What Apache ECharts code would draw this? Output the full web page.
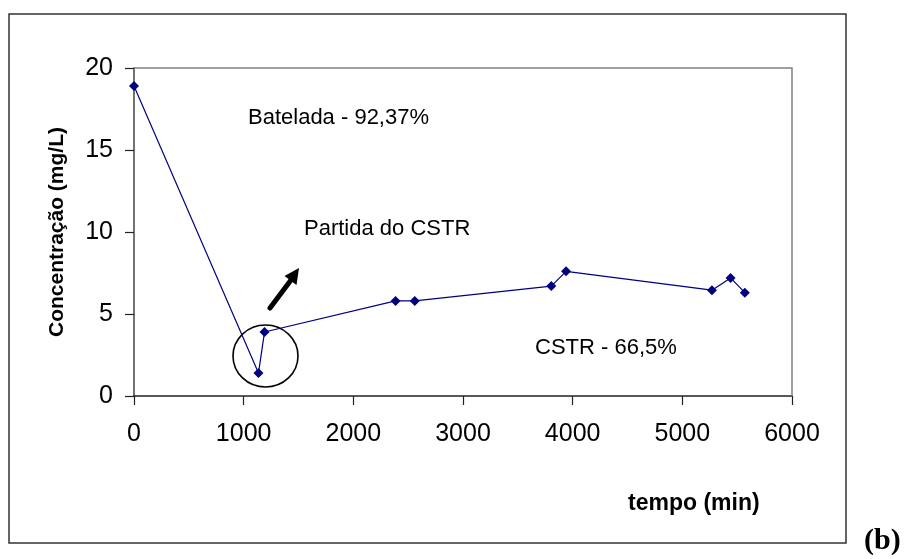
<!DOCTYPE html>
<html>
<head>
<meta charset="utf-8">
<script src="https://cdn.jsdelivr.net/npm/echarts@6/dist/echarts.min.js"></script>
<style>
  html, body { margin: 0; padding: 0; background: #ffffff; }
  #chart { width: 908px; height: 559px; }
</style>
</head>
<body>
<div id="chart"></div>
<script>
// Time (min) of each sample and the measured concentration (mg/L)
const tempo = [0, 1135, 1190, 2385, 2560, 3805, 3940, 5270, 5440, 5570];
const concentracao = [18.9, 1.4, 3.9, 5.8, 5.8, 6.7, 7.6, 6.45, 7.2, 6.3];

const xTicks = [0, 1000, 2000, 3000, 4000, 5000, 6000];
const yTicks = [0, 5, 10, 15, 20];

const notes = [
  { text: 'Batelada - 92,37%', x: 248, y: 119 },
  { text: 'Partida do CSTR', x: 304, y: 230 },
  { text: 'CSTR - 66,5%', x: 535, y: 349 }
];

const FONT = '"Liberation Sans", Arial, sans-serif';

const chart = echarts.init(document.getElementById('chart'), null, { renderer: 'canvas' });

const points = tempo.map((t, i) => [t, concentracao[i]]);

const option = {
  backgroundColor: '#ffffff',
  animation: false,
  grid: { left: 134, right: 116, top: 68, bottom: 163, show: false },
  xAxis: {
    type: 'value',
    min: xTicks[0],
    max: xTicks[xTicks.length - 1],
    interval: 1000,
    axisLine: { show: true, onZero: false, lineStyle: { color: '#222', width: 1.5 } },
    axisTick: { show: true, inside: false, length: 9, lineStyle: { color: '#222', width: 1.2 } },
    axisLabel: { color: '#000', fontFamily: FONT, fontSize: 25, margin: 26,
                 formatter: v => String(v) },
    splitLine: { show: false }
  },
  yAxis: {
    type: 'value',
    min: yTicks[0],
    max: yTicks[yTicks.length - 1],
    interval: 5,
    name: 'Concentração (mg/L)',
    nameLocation: 'middle',
    nameGap: 66,
    nameTextStyle: { color: '#000', fontFamily: FONT, fontSize: 21, fontWeight: 'bold' },
    axisLine: { show: true, lineStyle: { color: '#444', width: 1.5 } },
    axisTick: { show: true, inside: false, length: 9, lineStyle: { color: '#222', width: 1.2 } },
    axisLabel: { color: '#000', fontFamily: FONT, fontSize: 25, margin: 21,
                 formatter: v => String(v) },
    splitLine: { show: false }
  },
  series: [{
    type: 'line',
    data: points,
    symbol: 'diamond',
    symbolSize: 10,
    showSymbol: true,
    lineStyle: { color: '#000080', width: 1.2 },
    itemStyle: { color: '#000080' },
    z: 5
  }],
  graphic: [
    // outer frame around the figure
    { type: 'rect', shape: { x: 9, y: 14, width: 837, height: 529 },
      style: { fill: 'none', stroke: '#333', lineWidth: 1.5 }, z: 0 },
    // plot area border (top and right edges)
    { type: 'polyline', shape: { points: [[134, 68], [792, 68], [792, 396]] },
      style: { fill: 'none', stroke: '#808080', lineWidth: 1.5 }, z: 1 },
    // circle around the CSTR start-up point
    { type: 'ellipse', shape: { cx: 265.5, cy: 356, rx: 32.5, ry: 31 },
      style: { fill: 'none', stroke: '#000', lineWidth: 1.6 }, z: 4 },
    // arrow pointing to "Partida do CSTR"
    { type: 'line', shape: { x1: 270, y1: 308, x2: 291, y2: 280 },
      style: { stroke: '#000', lineWidth: 5, lineCap: 'round' }, z: 4 },
    { type: 'polygon', shape: { points: [[299, 268], [296.5, 285], [284.5, 276]] },
      style: { fill: '#000' }, z: 4 },
    ...notes.map(n => ({
      type: 'text', left: n.x, top: n.y - 12,
      style: { text: n.text, fill: '#000', font: '22px ' + FONT, textVerticalAlign: 'top' },
      z: 6
    })),
    { type: 'text', left: 628, top: 492,
      style: { text: 'tempo (min)', fill: '#000', font: 'bold 23px ' + FONT }, z: 6 },
    { type: 'text', left: 864, top: 526,
      style: { text: '(b)', fill: '#000', font: 'bold 30px "Liberation Serif", "Times New Roman", serif' }, z: 6 }
  ]
};

chart.setOption(option);
</script>
</body>
</html>
